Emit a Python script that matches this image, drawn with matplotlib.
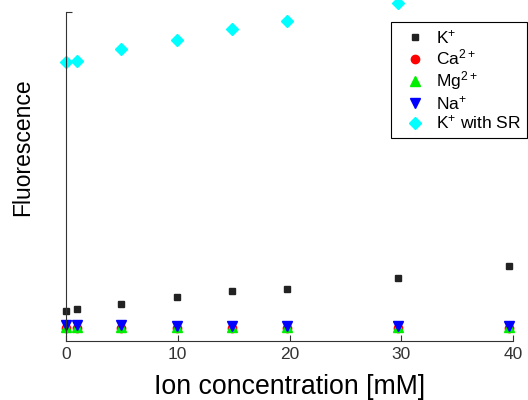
import matplotlib
matplotlib.use("Agg")
import matplotlib.pyplot as plt
from matplotlib.legend_handler import HandlerLine2D

plt.rcParams['font.family'] = ['Liberation Sans', 'DejaVu Sans']
plt.rcParams['mathtext.fontset'] = 'custom'
plt.rcParams['mathtext.rm'] = 'Liberation Sans'
plt.rcParams['mathtext.it'] = 'Liberation Sans'
plt.rcParams['mathtext.bf'] = 'Liberation Sans'

# ion concentration [mM]
conc = [0, 0.99, 4.95, 9.9, 14.85, 19.8, 29.7, 39.6]
conc_sr = [0, 0.99, 4.95, 9.9, 14.85, 19.8, 29.7]

# fluorescence (arbitrary units)
k_vals = [9.1, 9.7, 11.2, 13.4, 15.2, 15.8, 19.1, 22.8]
ca_vals = [4.0, 4.0, 4.0, 4.0, 4.0, 4.0, 4.0, 4.0]
mg_vals = [4.4, 4.4, 4.4, 4.4, 4.4, 4.4, 4.4, 4.4]
na_vals = [5.0, 5.0, 5.0, 4.5, 4.5, 4.5, 4.5, 4.5]
k_sr_vals = [84.8, 85.1, 88.8, 91.5, 94.8, 97.3, 102.7]


class RightMarker(HandlerLine2D):
    # put the legend marker near the label, like the original
    def get_xdata(self, legend, xdescent, ydescent, width, height, fontsize):
        return [-xdescent, -xdescent + width], [-xdescent + 0.72 * width]


fig = plt.figure(figsize=(5.28, 4.0), dpi=100)
ax = fig.add_axes([0.125, 0.1475, 0.8466, 0.8225])

ax.plot(conc, k_vals, 's', color='#222222', ms=5, label='K$^{+}$', clip_on=False)
ax.plot(conc, ca_vals, 'o', color='red', ms=6, label='Ca$^{2+}$', clip_on=False)
ax.plot(conc, mg_vals, '^', color='#00ee00', ms=7.5, label='Mg$^{2+}$', clip_on=False)
ax.plot(conc, na_vals, 'v', color='blue', ms=7.5, label='Na$^{+}$', clip_on=False)
ax.plot(conc_sr, k_sr_vals, 'D', color='cyan', ms=6, label='K$^{+}$ with SR', clip_on=False)

ax.set_xlim(0, 40)
ax.set_ylim(0, 100)
ax.set_xticks([0, 10, 20, 30, 40])
ax.set_yticks([100])
ax.set_yticklabels([''])
ax.tick_params(direction='in', length=4, colors='#333333', labelsize=12.5, labelcolor='#333333', pad=4)
for side in ['top', 'right']:
    ax.spines[side].set_visible(False)
for side in ['left', 'bottom']:
    ax.spines[side].set_color('#333333')

ax.set_xlabel('Ion concentration [mM]', fontsize=19.2, labelpad=9)
ax.set_ylabel('Fluorescence', fontsize=16.5)
ax.yaxis.set_label_coords(-0.071, 0.588)

leg = ax.legend(loc='upper right', bbox_to_anchor=(1.031, 0.97), borderaxespad=0,
                fancybox=False, edgecolor='black', fontsize=12.5, handletextpad=0.2,
                handlelength=2.0, labelspacing=0.1, borderpad=0.35, framealpha=1,
                handler_map={plt.Line2D: RightMarker()})
leg.get_frame().set_linewidth(0.8)

plt.savefig('out.png', dpi=100)
